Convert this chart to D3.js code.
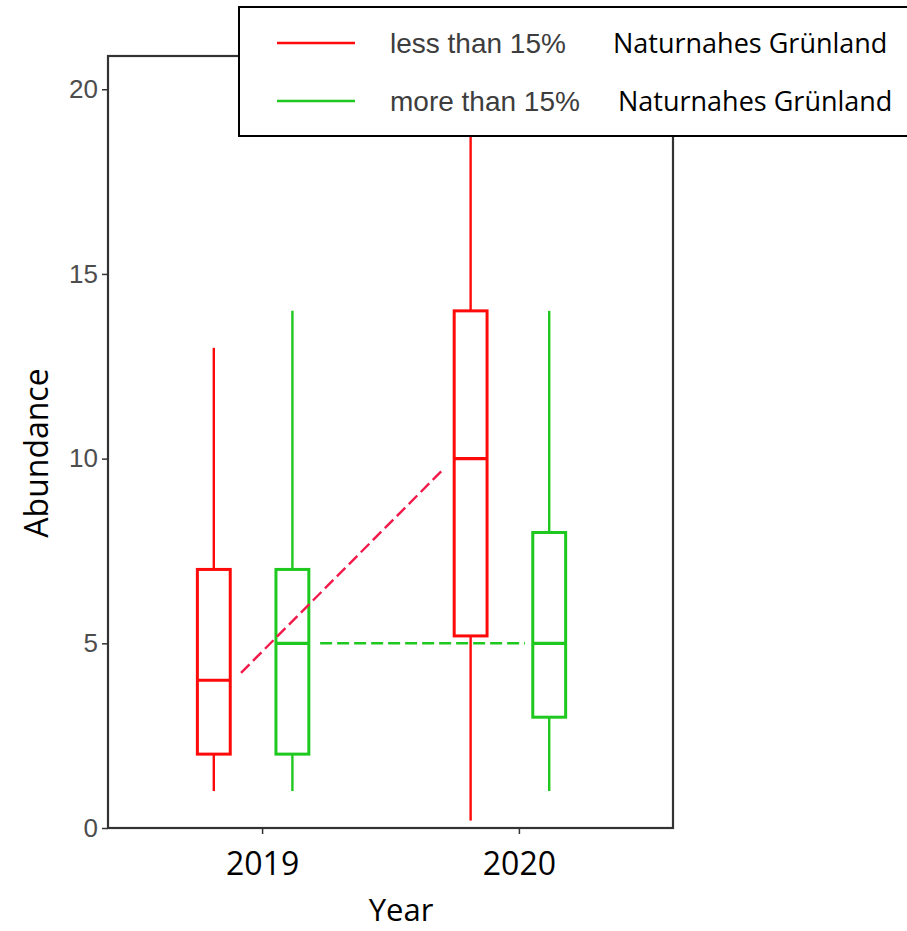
<!DOCTYPE html>
<html>
<head>
<meta charset="utf-8">
<script src="https://cdn.jsdelivr.net/npm/d3@7"></script>
<style>
  body { margin: 0; background: #fff; }
  svg { display: block; }
</style>
</head>
<body>
<svg id="chart" width="907" height="931"></svg>
<script>
// data
const years = ["2019", "2020"];
const groups = ["less", "more"];
const groupLabels = ["less than 15%", "more than 15%"];
const groupSuffix = ["Naturnahes Grünland", "Naturnahes Grünland"];
const yTicks = [0, 5, 10, 15, 20];
// [low whisker, q1, median, q3, high whisker]
const lessStats = [[1, 2, 4, 7, 13], [0.2, 5.2, 10, 14, 20]];
const moreStats = [[1, 2, 5, 7, 14], [1, 3, 5, 8, 14]];
// dashed trend segments: [x0, y0, x1, y1] in year-index units
const lessTrend = [0.918, 4.2, 1.704, 9.7];
const moreTrend = [1.226, 5, 2.024, 5];

const colours = { less: "#ff0a0a", more: "#1ec81e" };
const trendColours = { less: "#f2194a", more: "#1ec81e" };
const dodge = { less: -0.188, more: 0.118 };
const BOXW = 0.128;

const svg = d3.select("#chart");
const pLeft = 108, pRight = 673, pTop = 56, pBottom = 828;

const x = d3.scaleLinear().domain([0.4, 2.6]).range([pLeft, pRight]);
const y = d3.scaleLinear().domain([0, 20.9]).range([pBottom, pTop]);

const boxes = [];
years.forEach((yr, i) => {
  boxes.push({ year: i + 1, group: "less", s: lessStats[i] });
  boxes.push({ year: i + 1, group: "more", s: moreStats[i] });
});

const g = svg.append("g");

// boxes + whiskers
g.selectAll(".box")
  .data(boxes)
  .enter()
  .append("g")
  .attr("class", "box")
  .each(function (d) {
    const cx = x(d.year + dodge[d.group]);
    const sel = d3.select(this);
    sel.append("line")
      .attr("x1", cx).attr("x2", cx)
      .attr("y1", y(d.s[0])).attr("y2", y(d.s[1]))
      .attr("stroke", colours[d.group]).attr("stroke-width", 2.4);
    sel.append("line")
      .attr("x1", cx).attr("x2", cx)
      .attr("y1", y(d.s[3])).attr("y2", y(d.s[4]))
      .attr("stroke", colours[d.group]).attr("stroke-width", 2.4);
    const bx0 = x(d.year + dodge[d.group] - BOXW / 2);
    const bx1 = x(d.year + dodge[d.group] + BOXW / 2);
    sel.append("rect")
      .attr("x", bx0).attr("width", bx1 - bx0)
      .attr("y", y(d.s[3])).attr("height", y(d.s[1]) - y(d.s[3]))
      .attr("fill", "none")
      .attr("stroke", colours[d.group]).attr("stroke-width", 3);
    sel.append("line")
      .attr("x1", bx0).attr("x2", bx1)
      .attr("y1", y(d.s[2])).attr("y2", y(d.s[2]))
      .attr("stroke", colours[d.group]).attr("stroke-width", 3.2);
  });

// dashed trend lines
[["less", lessTrend], ["more", moreTrend]].forEach(([grp, t]) => {
  g.append("line")
    .attr("x1", x(t[0])).attr("y1", y(t[1]))
    .attr("x2", x(t[2])).attr("y2", y(t[3]))
    .attr("stroke", trendColours[grp])
    .attr("stroke-width", 2.4)
    .attr("stroke-dasharray", "12,5");
});

// panel border
svg.append("rect")
  .attr("x", pLeft).attr("y", pTop)
  .attr("width", pRight - pLeft).attr("height", pBottom - pTop)
  .attr("fill", "none").attr("stroke", "#333").attr("stroke-width", 2.2);

// y axis
const yAxis = d3.axisLeft(y).tickValues(yTicks).tickSize(6).tickPadding(4);
svg.append("g")
  .attr("transform", `translate(${pLeft},0)`)
  .call(yAxis)
  .call((a) => a.select(".domain").remove())
  .call((a) => a.selectAll("line").attr("stroke", "#333").attr("stroke-width", 1.5))
  .call((a) =>
    a.selectAll("text")
      .attr("fill", "#4d4d4d")
      .style("font-family", "Liberation Sans, Arial, sans-serif")
      .style("font-size", "26px")
  );

// x axis
const xAxis = d3.axisBottom(x).tickValues([1, 2]).tickFormat((d) => years[d - 1]).tickSize(6).tickPadding(18);
svg.append("g")
  .attr("transform", `translate(0,${pBottom})`)
  .call(xAxis)
  .call((a) => a.select(".domain").remove())
  .call((a) => a.selectAll("line").attr("stroke", "#333").attr("stroke-width", 1.5))
  .call((a) =>
    a.selectAll("text")
      .attr("fill", "#000")
      .style("font-family", "Open Sans, sans-serif")
      .style("font-size", "32px")
  );

// axis titles
svg.append("text")
  .attr("x", 401).attr("y", 921)
  .attr("text-anchor", "middle")
  .style("font-family", "Open Sans, sans-serif")
  .style("font-size", "31px")
  .text("Year");

svg.append("text")
  .attr("transform", "translate(48,453) rotate(-90)")
  .attr("text-anchor", "middle")
  .style("font-family", "Open Sans, sans-serif")
  .style("font-size", "32px")
  .text("Abundance");

// legend
const legend = svg.append("g");
legend.append("rect")
  .attr("x", 239).attr("y", 7)
  .attr("width", 700).attr("height", 129)
  .attr("fill", "#fff").attr("stroke", "#000").attr("stroke-width", 2);

const legendY = d3.scalePoint().domain(groups).range([43, 101]);
groups.forEach((grp, i) => {
  const ly = legendY(grp);
  legend.append("line")
    .attr("x1", 277).attr("x2", 355)
    .attr("y1", ly).attr("y2", ly)
    .attr("stroke", colours[grp]).attr("stroke-width", 2.6);
  legend.append("text")
    .attr("x", 390).attr("y", ly + 10)
    .attr("fill", "#3d3d3d")
    .style("font-family", "Liberation Sans, Arial, sans-serif")
    .style("font-size", "28px")
    .text(groupLabels[i]);
  legend.append("text")
    .attr("x", i === 0 ? 613 : 618).attr("y", ly + 10)
    .attr("fill", "#000")
    .style("font-family", "Open Sans, sans-serif")
    .style("font-size", "27px")
    .text(groupSuffix[i]);
});
</script>
</body>
</html>
